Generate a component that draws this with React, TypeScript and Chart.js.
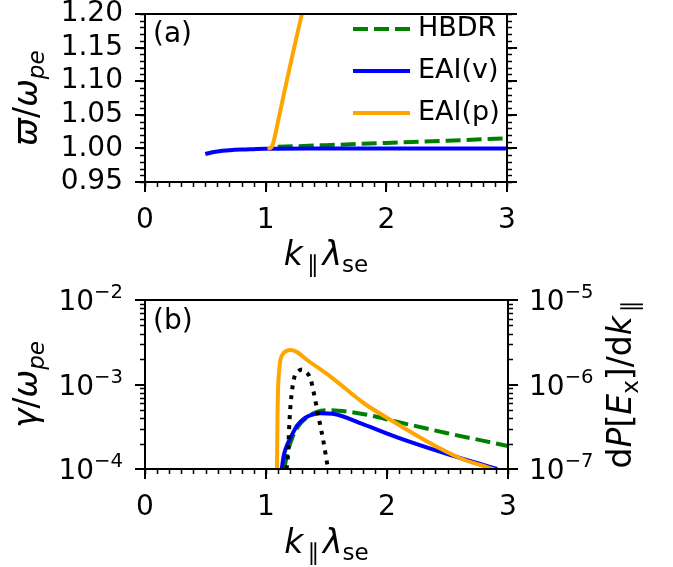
import React, { useEffect, useRef } from 'react';
import { Chart, registerables } from 'chart.js';

Chart.register(...registerables);

const FONT = '"DejaVu Sans", sans-serif';
const GREEN = '#008000';
const BLUE = '#0000ff';
const ORANGE = '#ffa500';

// ---------- Panel (a): real frequency ----------
const kHbdrA = [1.1, 1.5, 2.0, 2.5, 3.0];
const wHbdrA = [1.0023, 1.0048, 1.0082, 1.0115, 1.015];

const kEaiVA = [0.5, 0.55, 0.6, 0.7, 0.8, 0.9, 1.0, 1.5, 2.0, 2.5, 3.0];
const wEaiVA = [0.9915, 0.994, 0.9955, 0.9972, 0.9982, 0.9988, 0.9993, 0.9998, 1.0, 1.0, 1.0];

const kEaiPA = [1.015, 1.04, 1.055, 1.07, 1.1, 1.15, 1.2, 1.25, 1.3, 1.35];
const wEaiPA = [1.0, 1.0008, 1.004, 1.013, 1.038, 1.08, 1.121, 1.161, 1.2, 1.24];

// ---------- Panel (b): growth rate ----------
const kHbdrB = [1.15, 1.18, 1.22, 1.28, 1.35, 1.42, 1.5, 1.6, 1.81, 2.09, 2.5, 2.8, 3.0];
const gHbdrB = [1.0e-4, 1.6e-4, 2.4e-4, 3.4e-4, 4.2e-4, 4.75e-4, 4.95e-4, 4.9e-4, 4.45e-4, 3.6e-4, 2.65e-4, 2.15e-4, 1.87e-4];

const kEaiVB = [1.13, 1.145, 1.16, 1.2, 1.26, 1.32, 1.37, 1.45, 1.55, 1.81, 2.09, 2.5, 2.75, 2.91];
const gEaiVB = [1.0e-4, 1.4e-4, 1.7e-4, 2.3e-4, 3.3e-4, 4.0e-4, 4.35e-4, 4.57e-4, 4.5e-4, 3.35e-4, 2.35e-4, 1.5e-4, 1.17e-4, 1.0e-4];

const kEaiPB = [1.091, 1.095, 1.1, 1.11, 1.119, 1.14, 1.165, 1.202, 1.25, 1.34, 1.533, 1.809, 2.03, 2.362, 2.6, 2.87, 2.95];
const gEaiPB = [1.0e-4, 4.0e-4, 9.0e-4, 1.5e-3, 1.95e-3, 2.3e-3, 2.48e-3, 2.56e-3, 2.45e-3, 1.95e-3, 1.24e-3, 6.0e-4, 3.8e-4, 2.0e-4, 1.35e-4, 1.0e-4, 9.0e-5];

// spectrum dP[Ex]/dk (right axis)
const kSpec = [1.165, 1.174, 1.185, 1.19, 1.202, 1.229, 1.271, 1.298, 1.326, 1.367, 1.39, 1.423, 1.45, 1.478, 1.505, 1.515];
const pSpec = [1.0e-7, 1.1e-7, 1.8e-7, 2.8e-7, 5.5e-7, 1.13e-6, 1.45e-6, 1.5e-6, 1.42e-6, 1.18e-6, 8.6e-7, 5.0e-7, 3.2e-7, 2.0e-7, 1.17e-7, 1.0e-7];

// ---------- ticks / labels ----------
const xTickValues = [0, 1, 2, 3];
const yTickValuesA = [0.95, 1.0, 1.05, 1.1, 1.15, 1.2];
const gammaDecades = [1e-4, 1e-3, 1e-2];
const powerDecades = [1e-7, 1e-6, 1e-5];
const legendLabels = ['HBDR', 'EAI(v)', 'EAI(p)'];
const panelLabels = ['(a)', '(b)'];

type Part = { t: string; it?: boolean; sub?: boolean; pre?: number; post?: number };
const xLabelParts: Part[] = [{ t: 'k', it: true }, { t: '\u2225', sub: true, pre: 0.12, post: 0.12 }, { t: '\u03bb', it: true }, { t: 'se', sub: true }];
const yLabelAParts: Part[] = [{ t: '\u03d6', it: true }, { t: '/' }, { t: '\u03c9', it: true }, { t: 'pe', it: true, sub: true }];
const yLabelBParts: Part[] = [{ t: '\u03b3', it: true }, { t: '/' }, { t: '\u03c9', it: true }, { t: 'pe', it: true, sub: true }];
const y2LabelBParts: Part[] = [
  { t: 'd' }, { t: 'P', it: true }, { t: '[' }, { t: 'E', it: true }, { t: 'x', sub: true }, { t: ']' },
  { t: '/' }, { t: 'd' }, { t: 'k', it: true }, { t: '\u2225', sub: true, pre: 0.12 },
];

const TICK_SIZE = 28;
const LABEL_SIZE = 33;

function pts(k: number[], v: number[]) {
  return k.map((x, i) => ({ x, y: v[i] }));
}

function stepList(min: number, max: number, step: number) {
  const out: number[] = [];
  const n = Math.round((max - min) / step);
  for (let i = 0; i <= n; i++) out.push(min + i * step);
  return out;
}
function minorLog(decades: number[]) {
  const out: number[] = [];
  for (let d = 0; d < decades.length - 1; d++) for (let m = 2; m <= 9; m++) out.push(decades[d] * m);
  return out;
}

function drawRich(ctx: CanvasRenderingContext2D, parts: Part[], size: number, x: number, y: number, rot: number) {
  const fontFor = (p: Part) => `${p.it ? 'italic ' : ''}${p.sub ? size * 0.7 : size}px ${FONT}`;
  let total = 0;
  const widths = parts.map((p) => {
    ctx.font = fontFor(p);
    const w = ctx.measureText(p.t).width + ((p.pre || 0) + (p.post || 0)) * size;
    total += w;
    return w;
  });
  ctx.save();
  ctx.translate(x, y);
  ctx.rotate(rot);
  ctx.textAlign = 'left';
  ctx.textBaseline = 'alphabetic';
  ctx.fillStyle = '#000';
  let cx = -total / 2;
  parts.forEach((p, i) => {
    ctx.font = fontFor(p);
    ctx.fillText(p.t, cx + (p.pre || 0) * size, p.sub ? size * 0.22 : 0);
    cx += widths[i];
  });
  ctx.restore();
}

// "10^e" tick label, aligned right (align='right') or left at x, vertically centred at y
function drawPow(ctx: CanvasRenderingContext2D, v: number, x: number, y: number, align: 'left' | 'right') {
  const e = Math.round(Math.log10(v));
  const base = '10';
  const sup = (e < 0 ? '\u2212' : '') + String(Math.abs(e));
  const s = TICK_SIZE;
  ctx.font = `${s}px ${FONT}`;
  const wb = ctx.measureText(base).width;
  ctx.font = `${s * 0.7}px ${FONT}`;
  const ws = ctx.measureText(sup).width;
  const x0 = align === 'right' ? x - wb - ws : x;
  const baseY = y + s * 0.36;
  ctx.textAlign = 'left';
  ctx.textBaseline = 'alphabetic';
  ctx.fillStyle = '#000';
  ctx.font = `${s}px ${FONT}`;
  ctx.fillText(base, x0, baseY);
  ctx.font = `${s * 0.7}px ${FONT}`;
  ctx.fillText(sup, x0 + wb, baseY - s * 0.42);
}

type FrameCfg = {
  xMajor: number[];
  xMinor: number[];
  leftId: string;
  rightId: string;
  yMajor: number[];
  yMinor: number[];
  rMajor: number[];
  rMinor: number[];
  extra: (ctx: CanvasRenderingContext2D, a: any, scales: any) => void;
};

function makeFrame(cfg: FrameCfg) {
  return {
    id: 'frame',
    afterDraw(chart: any) {
      const { ctx, chartArea: a, scales } = chart;
      ctx.save();
      ctx.strokeStyle = '#000';
      const line = (x1: number, y1: number, x2: number, y2: number, w: number) => {
        ctx.lineWidth = w;
        ctx.beginPath();
        ctx.moveTo(x1, y1);
        ctx.lineTo(x2, y2);
        ctx.stroke();
      };
      const xs = scales.x;
      cfg.xMajor.forEach((v) => { const p = Math.round(xs.getPixelForValue(v)); line(p, a.bottom, p, a.bottom + 10, 2); });
      cfg.xMinor.forEach((v) => { const p = Math.round(xs.getPixelForValue(v)) + 0.5; line(p, a.bottom, p, a.bottom + 5, 1.5); });
      const yl = scales[cfg.leftId];
      cfg.yMajor.forEach((v) => { const p = Math.round(yl.getPixelForValue(v)); line(a.left, p, a.left - 10, p, 2); });
      cfg.yMinor.forEach((v) => { const p = Math.round(yl.getPixelForValue(v)) + 0.5; line(a.left, p, a.left - 5, p, 1.5); });
      const yr = scales[cfg.rightId];
      cfg.rMajor.forEach((v) => { const p = Math.round(yr.getPixelForValue(v)); line(a.right, p, a.right + 10, p, 2); });
      cfg.rMinor.forEach((v) => { const p = Math.round(yr.getPixelForValue(v)) + 0.5; line(a.right, p, a.right + 5, p, 1.5); });
      ctx.lineWidth = 2;
      ctx.strokeRect(a.left, a.top, a.right - a.left, a.bottom - a.top);
      cfg.extra(ctx, a, scales);
      ctx.restore();
    },
  };
}

const tickFont = { family: FONT, size: TICK_SIZE, lineHeight: 1.0 };
const hiddenTickGrid = { display: true, drawOnChartArea: false, drawTicks: true, tickLength: 22, color: 'rgba(0,0,0,0)' };

export default function App() {
  const topRef = useRef<HTMLCanvasElement>(null);
  const botRef = useRef<HTMLCanvasElement>(null);

  useEffect(() => {
    const xMinor = stepList(0, 3, 0.1);
    const xScale = (height: number) => ({
      type: 'linear' as const,
      min: 0,
      max: 3,
      grid: { display: false },
      border: { display: false },
      ticks: { font: { family: FONT, size: TICK_SIZE }, color: '#000', padding: 14, maxRotation: 0, autoSkip: false },
      afterBuildTicks: (s: any) => { s.ticks = xTickValues.map((value) => ({ value })); },
      afterFit: (s: any) => { s.height = height; },
    });

    const topChart = new Chart(topRef.current!, {
      type: 'line',
      data: {
        datasets: [
          { label: legendLabels[0], data: pts(kHbdrA, wHbdrA), borderColor: GREEN, borderDash: [15, 6], borderWidth: 4, pointRadius: 0, order: 3 },
          { label: legendLabels[1], data: pts(kEaiVA, wEaiVA), borderColor: BLUE, borderWidth: 4, pointRadius: 0, order: 2 },
          { label: legendLabels[2], data: pts(kEaiPA, wEaiPA), borderColor: ORANGE, borderWidth: 4, pointRadius: 0, order: 1 },
        ],
      },
      options: {
        responsive: false,
        animation: false,
        layout: { padding: { left: 0, right: 166, top: 14, bottom: 0 } },
        plugins: { legend: { display: false }, tooltip: { enabled: false } },
        elements: { line: { cubicInterpolationMode: 'monotone' } },
        scales: {
          x: xScale(102),
          y: {
            type: 'linear',
            min: 0.95,
            max: 1.2,
            grid: hiddenTickGrid,
            border: { display: false },
            ticks: { font: tickFont, color: '#000', padding: 0, autoSkip: false, callback: (v: any) => Number(v).toFixed(2) },
            afterBuildTicks: (s: any) => { s.ticks = yTickValuesA.map((value) => ({ value })); },
            afterFit: (s: any) => { s.width = 145; },
          },
        },
      } as any,
      plugins: [
        makeFrame({
          xMajor: xTickValues,
          xMinor,
          leftId: 'y',
          rightId: 'y',
          yMajor: yTickValuesA,
          yMinor: stepList(0.95, 1.2, 0.01),
          rMajor: yTickValuesA,
          rMinor: stepList(0.95, 1.2, 0.01),
          extra: (ctx, a) => {
            drawRich(ctx, xLabelParts, LABEL_SIZE, (a.left + a.right) / 2, a.bottom + 83, 0);
            drawRich(ctx, yLabelAParts, LABEL_SIZE, 37, (a.top + a.bottom) / 2, -Math.PI / 2);
            ctx.fillStyle = '#000';
            ctx.font = `${TICK_SIZE}px ${FONT}`;
            ctx.textAlign = 'left';
            ctx.textBaseline = 'middle';
            ctx.fillText(panelLabels[0], a.left + 8, a.top + 21);
            const colors = [GREEN, BLUE, ORANGE];
            const offs = [15, 57, 99];
            ctx.font = `27px ${FONT}`;
            legendLabels.forEach((lab, i) => {
              const y = a.top + offs[i];
              ctx.strokeStyle = colors[i];
              ctx.lineWidth = 4;
              ctx.setLineDash(i === 0 ? [15, 6] : []);
              ctx.beginPath();
              ctx.moveTo(a.right - 154, y);
              ctx.lineTo(a.right - 97, y);
              ctx.stroke();
              ctx.setLineDash([]);
              ctx.fillStyle = '#000';
              ctx.fillText(lab, a.right - 89, y);
            });
          },
        }),
      ],
    });

    const botChart = new Chart(botRef.current!, {
      type: 'line',
      data: {
        datasets: [
          { label: 'dP[Ex]/dk', data: pts(kSpec, pSpec), yAxisID: 'y2', borderColor: '#000', borderDash: [4, 6], borderWidth: 4, pointRadius: 0, order: 0 },
          { label: legendLabels[2], data: pts(kEaiPB, gEaiPB), yAxisID: 'y', borderColor: ORANGE, borderWidth: 4, pointRadius: 0, order: 1 },
          { label: legendLabels[1], data: pts(kEaiVB, gEaiVB), yAxisID: 'y', borderColor: BLUE, borderWidth: 4, pointRadius: 0, order: 2 },
          { label: legendLabels[0], data: pts(kHbdrB, gHbdrB), yAxisID: 'y', borderColor: GREEN, borderDash: [15, 6], borderWidth: 4, pointRadius: 0, order: 3 },
        ],
      },
      options: {
        responsive: false,
        animation: false,
        layout: { padding: { left: 0, right: 0, top: 16, bottom: 0 } },
        plugins: { legend: { display: false }, tooltip: { enabled: false } },
        elements: { line: { cubicInterpolationMode: 'monotone' } },
        scales: {
          x: xScale(98),
          y: {
            type: 'logarithmic',
            position: 'left',
            min: 1e-4,
            max: 1e-2,
            grid: { display: false },
            border: { display: false },
            ticks: { font: tickFont, padding: 0, autoSkip: false, callback: () => '' },
            afterBuildTicks: (s: any) => { s.ticks = gammaDecades.map((value) => ({ value })); },
            afterFit: (s: any) => { s.width = 145; },
          },
          y2: {
            type: 'logarithmic',
            position: 'right',
            min: 1e-7,
            max: 1e-5,
            grid: { display: false },
            border: { display: false },
            ticks: { font: tickFont, padding: 0, autoSkip: false, callback: () => '' },
            afterBuildTicks: (s: any) => { s.ticks = powerDecades.map((value) => ({ value })); },
            afterFit: (s: any) => { s.width = 165; },
          },
        },
      } as any,
      plugins: [
        makeFrame({
          xMajor: xTickValues,
          xMinor,
          leftId: 'y',
          rightId: 'y2',
          yMajor: gammaDecades,
          yMinor: minorLog(gammaDecades),
          rMajor: powerDecades,
          rMinor: minorLog(powerDecades),
          extra: (ctx, a, scales) => {
            gammaDecades.forEach((v) => drawPow(ctx, v, a.left - 22, scales.y.getPixelForValue(v), 'right'));
            powerDecades.forEach((v) => drawPow(ctx, v, a.right + 21, scales.y2.getPixelForValue(v), 'left'));
            drawRich(ctx, xLabelParts, LABEL_SIZE, (a.left + a.right) / 2, a.bottom + 84, 0);
            drawRich(ctx, yLabelBParts, LABEL_SIZE, 37, (a.top + a.bottom) / 2, -Math.PI / 2);
            drawRich(ctx, y2LabelBParts, LABEL_SIZE, 631, (a.top + a.bottom) / 2, -Math.PI / 2);
            ctx.fillStyle = '#000';
            ctx.font = `${TICK_SIZE}px ${FONT}`;
            ctx.textAlign = 'left';
            ctx.textBaseline = 'middle';
            ctx.fillText(panelLabels[1], a.left + 8, a.top + 22);
          },
        }),
      ],
    });

    return () => {
      topChart.destroy();
      botChart.destroy();
    };
  }, []);

  return (
    <div style={{ position: 'absolute', left: 0, top: 0, width: 673, height: 567, background: '#fff' }}>
      <canvas ref={topRef} width={673} height={284} style={{ position: 'absolute', left: 0, top: 0, width: 673, height: 284 }} />
      <canvas ref={botRef} width={673} height={283} style={{ position: 'absolute', left: 0, top: 284, width: 673, height: 283 }} />
    </div>
  );
}
